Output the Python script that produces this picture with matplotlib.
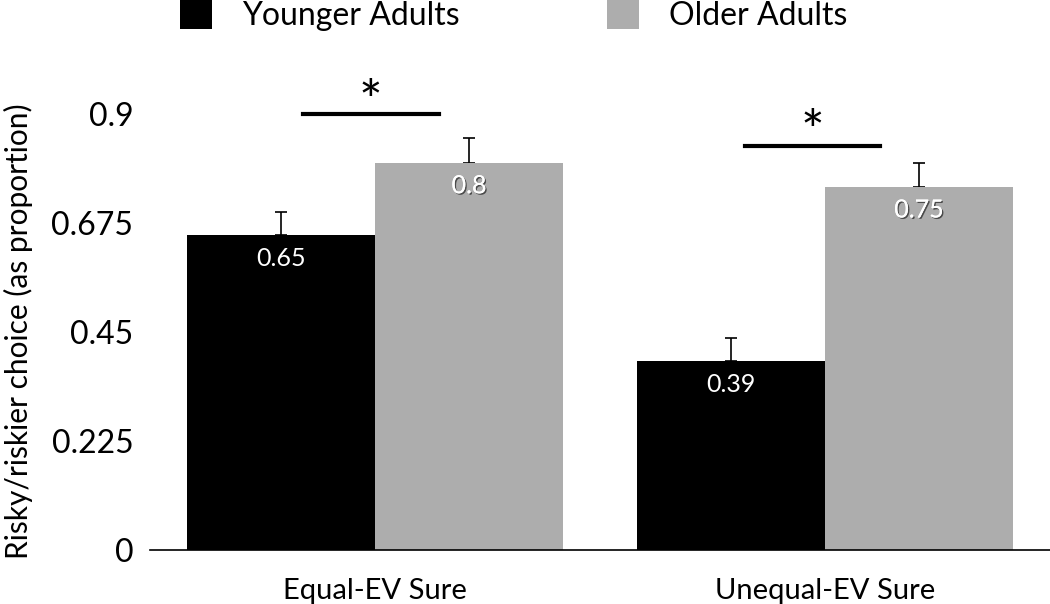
import matplotlib.pyplot as plt
import matplotlib.patheffects as pe
import numpy as np

conditions = ["Equal-EV Sure", "Unequal-EV Sure"]
younger = [0.65, 0.39]
older = [0.80, 0.75]
younger_err = [0.048, 0.048]
older_err = [0.05, 0.048]
ticks = [0, 0.225, 0.45, 0.675, 0.9]
tick_labels = ["0", "0.225", "0.45", "0.675", "0.9"]

plt.rcParams["font.family"] = ["Lato", "DejaVu Sans"]

fig = plt.figure(figsize=(10.5, 6.04), dpi=100)
ax = fig.add_axes([150 / 1050, 54 / 604, 900 / 1050, 532.8 / 604])

x = np.arange(len(conditions))
width = 0.418
ax.bar(x - width / 2, younger, width, color="black", label="Younger Adults", zorder=2)
ax.bar(x + width / 2, older, width, color="#adadad", label="Older Adults", zorder=2)
# lower half hidden behind the bars so only the upper whisker shows
ax.errorbar(x - width / 2, younger, yerr=[np.zeros(2), younger_err], fmt="none",
            ecolor="black", elinewidth=1.2, capsize=4, capthick=1.2, zorder=1)
ax.errorbar(x + width / 2, older, yerr=[np.zeros(2), older_err], fmt="none",
            ecolor="black", elinewidth=1.2, capsize=4, capthick=1.2, zorder=1)

shadow = [pe.withSimplePatchShadow(offset=(1, -1), shadow_rgbFace="#333333", alpha=0.8), pe.Normal()]
for xi, v in zip(x - width / 2, younger):
    ax.text(xi, v - 0.048, f"{v:g}", color="white", ha="center", va="center", fontsize=18, zorder=3)
for xi, v in zip(x + width / 2, older):
    ax.text(xi, v - 0.048, f"{v:g}", color="white", ha="center", va="center", fontsize=18,
            path_effects=shadow, zorder=3)

# significance markers
ax.plot([-0.16, 0.142], [0.9, 0.9], color="black", lw=3, clip_on=False)
ax.text(-0.01, 0.919, "*", ha="center", va="center", fontsize=40)
ax.plot([0.822, 1.122], [0.834, 0.834], color="black", lw=3, clip_on=False)
ax.text(0.972, 0.857, "*", ha="center", va="center", fontsize=40)

ax.set_xlim(-0.5, 1.5)
ax.set_ylim(0, 1.1)
ax.set_yticks(ticks)
ax.set_yticklabels(tick_labels, fontsize=23)
ax.set_xticks(x)
ax.set_xticklabels(conditions, fontsize=21)
ax.tick_params(length=0, axis="y", pad=12)
ax.tick_params(length=0, axis="x", pad=20)
for s in ["top", "right", "left"]:
    ax.spines[s].set_visible(False)
ax.spines["bottom"].set_linewidth(1.2)
ax.set_ylabel("Risky/riskier choice (as proportion)", fontsize=21.5)
ax.yaxis.set_label_coords(-0.13, 0.41)

fig.legend(loc="upper left", bbox_to_anchor=(180 / 1050, 1.0), ncol=2, frameon=False,
           fontsize=23, handlelength=1.0, handleheight=1.0, columnspacing=4.6, handletextpad=0.95,
           borderaxespad=0, borderpad=0)

fig.savefig("out.png", dpi=100)
